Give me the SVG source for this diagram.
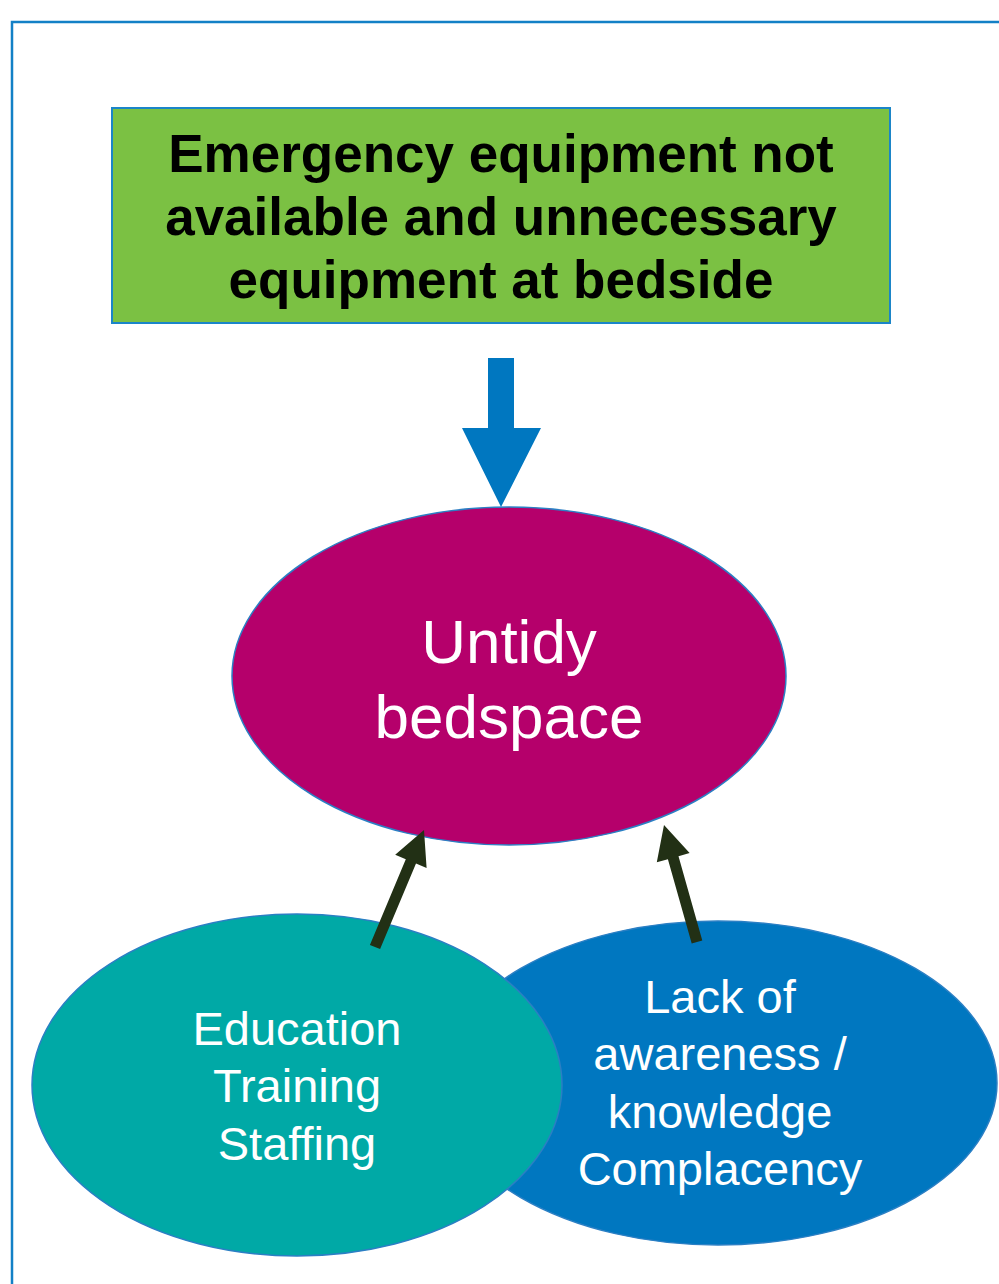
<svg xmlns="http://www.w3.org/2000/svg" width="999" height="1284" viewBox="0 0 999 1284">
<style>
.frame{fill:#fff;stroke:#1380C6;stroke-width:2.5}
.ell{stroke:#2B7FC4;stroke-width:1.5}
.title{font-family:"Liberation Sans",Arial,sans-serif;font-weight:bold;font-size:53px;fill:#000;text-anchor:middle}
.wt{font-family:"Liberation Sans",Arial,sans-serif;fill:#fff;text-anchor:middle}
.arr{fill:#223015}
</style>
<rect width="999" height="1284" fill="#fff"/>
<rect class="frame" x="12" y="22" width="1000" height="1300"/>
<g id="node-problem">
<rect x="112" y="108" width="778" height="215" fill="#7BC143" stroke="#1B85C8" stroke-width="2"/>
<text class="title" x="501" y="172">Emergency equipment not</text>
<text class="title" x="501" y="235">available and unnecessary</text>
<text class="title" x="501" y="298">equipment at bedside</text>
</g>
<g id="node-untidy">
<ellipse class="ell" cx="509" cy="676" rx="277" ry="169" fill="#B5006B"/>
<text class="wt" x="509" y="663" font-size="62">Untidy</text>
<text class="wt" x="509" y="738" font-size="62">bedspace</text>
</g>
<g id="node-awareness">
<ellipse class="ell" cx="718" cy="1083" rx="279" ry="162" fill="#0077C0"/>
<text class="wt" x="720" y="1013" font-size="47">Lack of</text>
<text class="wt" x="720" y="1070" font-size="47">awareness /</text>
<text class="wt" x="720" y="1128" font-size="47">knowledge</text>
<text class="wt" x="720" y="1185" font-size="47">Complacency</text>
</g>
<g id="node-education">
<ellipse class="ell" cx="297" cy="1085" rx="265" ry="171" fill="#00A9A6"/>
<text class="wt" x="297" y="1045" font-size="47">Education</text>
<text class="wt" x="297" y="1102" font-size="47">Training</text>
<text class="wt" x="297" y="1160" font-size="47">Staffing</text>
</g>
<g id="connectors">
<polygon fill="#0077C0" points="488,358 514,358 514,428 541,428 501,507 462,428 488,428"/>
<polygon class="arr" points="369.9,944.9 405.8,859.2 395.2,854.7 424,830 426.6,867.9 416.0,863.4 380.1,949.1"/>
<polygon class="arr" points="691.7,943.5 667.9,859.2 656.8,862.3 664,825 689.6,853.1 678.5,856.2 702.3,940.5"/>
</g>
</svg>
